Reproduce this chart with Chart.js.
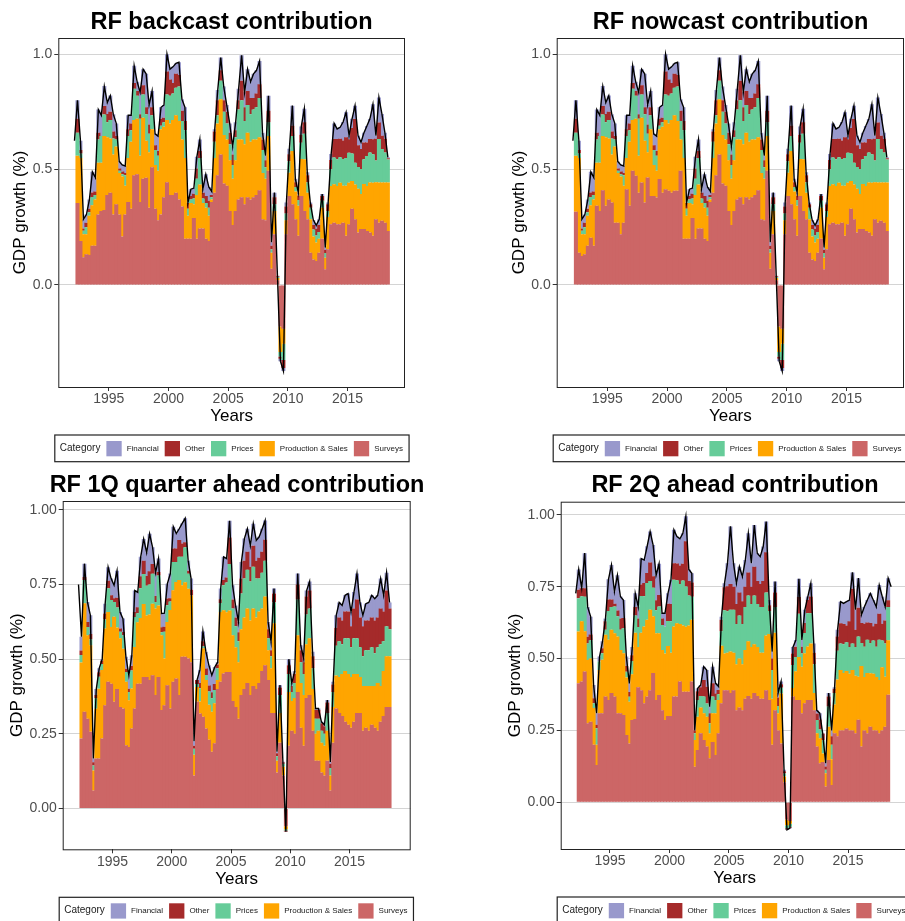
<!DOCTYPE html>
<html>
<head>
<meta charset="utf-8">
<script src="https://cdn.jsdelivr.net/npm/chart.js"></script>
<style>
html,body{margin:0;padding:0;background:#fff;width:905px;height:921px;overflow:hidden;position:relative;}
.panel{position:absolute;}
</style>
</head>
<body>
<canvas class="panel" id="c1" width="463" height="466" style="left:0px;top:0px"></canvas>
<canvas class="panel" id="c2" width="467" height="466" style="left:497px;top:0px"></canvas>
<canvas class="panel" id="c3" width="474" height="459" style="left:0px;top:462px"></canvas>
<canvas class="panel" id="c4" width="476" height="459" style="left:497px;top:462px"></canvas>
<script>
// quarterly bars, first one is 1992 Q2 (mid quarter), line starts one quarter earlier
const firstBar = 1992.375;
const firstLine = 1992.125;
const xTicks = [1995, 2000, 2005, 2010, 2015];

const categories = ["Financial", "Other", "Prices", "Production & Sales", "Surveys"];
const catColors = ["#9999CC", "#A52A2A", "#66CC99", "#FFA500", "#CC6666"];

// ---- RF backcast ----
const backSurveys = [.355,.19,.12,.133,.13,.17,.17,.305,.32,.325,.39,.40,.305,.35,.305,.21,.305,.36,.33,.475,.48,.36,.46,.465,.335,.51,.33,.28,.305,.38,.445,.39,.39,.40,.37,.34,.20,.20,.20,.29,.20,.245,.245,.20,.19,.36,.40,.475,.565,.44,.43,.32,.26,.32,.37,.38,.35,.38,.37,.38,.39,.41,.285,.28,.495,.07,.22,.02,-.18,-.19,.22,.386,.35,.285,.213,.386,.32,.285,.14,.11,.104,.14,.20,.068,.155,.263,.27,.263,.263,.27,.213,.263,.33,.285,.227,.242,.242,.234,.227,.213,.285,.27,.278,.27,.234];
const backProduction = [.205,.36,.10,.087,.17,.175,.20,.225,.21,.32,.25,.235,.26,.25,.18,.26,.125,.19,.29,.24,.24,.20,.265,.16,.24,.165,.19,.215,.37,.305,.27,.31,.325,.335,.34,.29,.35,.10,.155,.06,.19,.19,.11,.135,.11,.01,.15,.225,.24,.21,.20,.22,.20,.22,.26,.25,.26,.28,.25,.25,.24,.23,.20,.18,.15,.07,.10,.01,-.11,-.065,.06,.10,.23,.12,.13,.16,.225,.115,.145,.10,.08,.06,.135,.05,.14,.166,.166,.166,.18,.16,.217,.18,.12,.15,.19,.152,.195,.195,.217,.23,.16,.174,.166,.174,.21];
const backPrices = [.10,.02,.015,.03,.015,.036,.02,.10,.115,.094,.065,.08,.07,.03,.01,.01,.045,.095,.05,.135,.10,.16,.10,.115,.08,.06,.065,.065,.015,.02,.11,.12,.115,.12,.15,.08,.12,.03,.015,.025,.07,.115,.02,.02,.035,.01,.07,.035,.08,.10,.07,.07,.06,.10,.13,.17,.10,.12,.12,.13,.14,.17,.10,.05,.06,.015,.03,.005,-.02,-.07,.03,.05,.065,.02,.025,.07,.11,.045,.05,.03,.03,.03,.03,.02,.025,.072,.116,.116,.11,.116,.12,.13,.12,.094,.094,.108,.108,.13,.13,.123,.094,.188,.145,.13,.10];
const backOther = [.06,.015,.01,.02,.015,.02,.015,.03,0,.036,.036,.036,.03,.015,.01,.012,.01,.03,.03,.025,.02,.02,.04,.03,.04,.035,.02,.02,.03,.02,.10,.07,.045,.06,.05,.045,.04,.025,.015,.02,.045,.03,.025,.03,.03,.01,.045,.065,.045,.05,.05,.05,.045,.03,.04,.085,.06,.06,.07,.05,.06,.06,.045,.03,.05,.015,.03,.003,-.01,-.035,.03,.03,.045,.02,.02,.035,.05,.03,.015,.02,.03,.03,.02,.015,.03,.04,.08,.087,.08,.08,.09,.058,.11,.19,.094,.087,.072,.058,.058,.065,.094,.072,.058,.06,.005];
const backFinancial = [.08,.04,.04,.035,.04,.09,.06,.10,.09,.087,.05,.07,.075,.055,.03,.03,.03,.06,.035,.075,.04,.095,.07,.145,.085,.07,.05,.065,.05,.055,.075,.045,.07,.045,.055,.05,.06,0,.03,.025,.05,.05,.015,.095,.06,.015,.01,.045,.055,.06,.03,.04,.035,.035,.05,.11,.065,.095,.07,.105,.10,.10,.03,.02,.065,.015,.02,.002,-.01,-.013,.017,.024,.087,.015,.012,.036,.058,.013,.007,.022,.014,.025,.009,.009,.007,.026,.068,.044,.05,.08,.108,.016,.04,.058,.043,.029,.043,.072,.087,.152,.014,.108,.094,.026,.004];
const backLine = [.625,.80,.625,.285,.305,.37,.49,.465,.76,.735,.86,.79,.82,.74,.70,.535,.52,.515,.735,.735,.95,.88,.835,.935,.915,.78,.84,.655,.645,.77,.78,1.0,.935,.945,.96,.965,.805,.77,.355,.415,.42,.555,.63,.415,.48,.425,.405,.675,.845,.985,.86,.78,.70,.60,.705,.85,.995,.835,.935,.88,.915,.93,.97,.66,.56,.82,.185,.40,.04,-.33,-.373,.357,.59,.777,.46,.40,.687,.763,.488,.357,.282,.258,.285,.394,.162,.357,.567,.70,.676,.683,.706,.748,.647,.72,.777,.648,.618,.66,.69,.72,.783,.647,.812,.741,.66,.553];

// ---- RF nowcast ----
const nowSurveys = [.317,.14,.126,.133,.17,.205,.17,.343,.32,.41,.343,.37,.357,.27,.27,.22,.27,.415,.343,.495,.473,.40,.444,.357,.466,.386,.386,.379,.459,.40,.415,.408,.40,.408,.408,.495,.20,.20,.20,.29,.20,.245,.245,.20,.19,.36,.40,.475,.565,.44,.43,.32,.26,.32,.37,.38,.35,.38,.37,.38,.39,.41,.285,.28,.495,.07,.22,.02,-.18,-.19,.22,.386,.35,.285,.213,.386,.32,.285,.14,.11,.104,.14,.20,.068,.155,.263,.27,.263,.263,.27,.213,.263,.33,.285,.227,.242,.242,.234,.227,.213,.285,.27,.278,.27,.234];
const nowProduction = [.243,.41,.094,.087,.13,.14,.20,.187,.21,.235,.297,.265,.208,.33,.215,.25,.16,.135,.277,.22,.247,.16,.281,.268,.109,.289,.134,.116,.216,.285,.30,.292,.315,.327,.302,.135,.35,.10,.155,.06,.19,.19,.11,.135,.11,.01,.15,.225,.24,.21,.20,.22,.20,.22,.26,.25,.26,.28,.25,.25,.24,.23,.20,.18,.15,.07,.10,.01,-.11,-.065,.06,.10,.23,.12,.13,.16,.225,.115,.145,.10,.08,.06,.135,.05,.14,.166,.166,.166,.18,.16,.217,.18,.12,.15,.19,.152,.195,.195,.217,.23,.16,.174,.166,.174,.21];
const nowPrices = [.10,.02,.015,.03,.015,.036,.02,.10,.115,.094,.065,.08,.07,.03,.01,.01,.045,.095,.05,.135,.10,.16,.10,.115,.08,.06,.065,.065,.015,.02,.11,.12,.115,.12,.15,.08,.12,.03,.015,.025,.07,.115,.02,.02,.035,.01,.07,.035,.08,.10,.07,.07,.06,.10,.13,.17,.10,.12,.12,.13,.14,.17,.10,.05,.06,.015,.03,.005,-.02,-.07,.03,.05,.065,.02,.025,.07,.11,.045,.05,.03,.03,.03,.03,.02,.025,.072,.116,.116,.11,.116,.12,.13,.12,.094,.094,.108,.108,.13,.13,.123,.094,.188,.145,.13,.10];
const nowOther = [.06,.015,.01,.02,.015,.02,.015,.03,0,.036,.036,.036,.03,.015,.01,.012,.01,.03,.03,.025,.02,.02,.04,.03,.04,.035,.02,.02,.03,.02,.10,.07,.045,.06,.05,.045,.04,.025,.015,.02,.045,.03,.025,.03,.03,.01,.045,.065,.045,.05,.05,.05,.045,.03,.04,.085,.06,.06,.07,.05,.06,.06,.045,.03,.05,.015,.03,.003,-.01,-.035,.03,.03,.045,.02,.02,.035,.05,.03,.015,.02,.03,.03,.02,.015,.03,.04,.08,.087,.08,.08,.09,.058,.11,.19,.094,.087,.072,.058,.058,.065,.094,.072,.058,.06,.005];
const nowFinancial = [.08,.04,.04,.035,.04,.09,.06,.10,.09,.087,.05,.07,.075,.055,.03,.03,.03,.06,.035,.075,.04,.095,.07,.145,.085,.07,.05,.065,.05,.055,.075,.045,.07,.045,.055,.05,.06,0,.03,.025,.05,.05,.015,.095,.06,.015,.01,.045,.055,.06,.03,.04,.035,.035,.05,.11,.065,.095,.07,.105,.10,.10,.03,.02,.065,.015,.02,.002,-.01,-.013,.017,.024,.087,.015,.012,.036,.058,.013,.007,.022,.014,.025,.009,.009,.007,.026,.068,.044,.05,.08,.108,.016,.04,.058,.043,.029,.043,.072,.087,.152,.014,.108,.094,.026,.004];
const nowLine = [.625,.80,.625,.285,.305,.37,.49,.465,.76,.735,.86,.79,.82,.74,.70,.535,.52,.515,.735,.735,.95,.88,.835,.935,.915,.78,.84,.655,.645,.77,.78,1.0,.935,.945,.96,.965,.805,.77,.355,.415,.42,.555,.63,.415,.48,.425,.405,.675,.845,.985,.86,.78,.70,.60,.705,.85,.995,.835,.935,.88,.915,.93,.97,.66,.56,.82,.185,.40,.04,-.33,-.373,.357,.59,.777,.46,.40,.687,.763,.488,.357,.282,.258,.285,.394,.162,.357,.567,.70,.676,.683,.706,.748,.647,.72,.777,.648,.618,.66,.69,.72,.783,.647,.812,.741,.66,.553];

// ---- RF 1Q quarter ahead ----
const q1Surveys = [.234,.324,.30,.257,.06,.167,.167,.234,.346,.424,.418,.357,.40,.34,.335,.212,.206,.268,.335,.418,.418,.44,.44,.43,.446,.38,.44,.33,.346,.413,.335,.424,.435,.38,.508,.508,.502,.49,.11,.357,.318,.307,.268,.23,.19,.218,.40,.424,.452,.457,.457,.36,.34,.30,.38,.40,.42,.38,.41,.40,.42,.46,.48,.43,.32,.32,.12,.22,.11,-.06,.21,.26,.25,.39,.27,.21,.37,.38,.26,.16,.16,.12,.11,.16,.06,.22,.335,.32,.31,.29,.28,.27,.29,.32,.32,.26,.27,.26,.28,.27,.26,.29,.31,.34,.34];
const q1Production = [.255,.363,.28,.29,.067,.167,.234,.23,.257,.234,.19,.285,.206,.23,.20,.212,.156,.134,.206,.206,.22,.245,.206,.22,.24,.29,.24,.25,.156,.212,.33,.307,.324,.385,.24,.25,.234,.223,.07,.05,.04,.23,.162,.117,.134,.134,.03,.234,.212,.20,.206,.22,.20,.19,.22,.24,.25,.25,.26,.24,.24,.21,.23,.10,.15,.30,.04,.10,.03,-.01,.18,.10,.12,.19,.15,.17,.18,.19,.14,.09,.10,.10,.10,.10,.05,.12,.11,.12,.14,.17,.17,.17,.16,.13,.12,.15,.14,.15,.13,.14,.16,.12,.15,.17,.17];
const q1Prices = [.025,.078,.028,.02,.017,.035,.04,.02,.03,.08,.09,.05,.067,.022,.045,.033,.028,.06,.10,.03,.10,.10,.10,.10,.10,.022,.10,.01,.09,.056,.028,.095,.067,.078,.095,.117,.05,0,.02,.01,.045,.006,.017,.045,.045,.045,.04,.03,.084,.10,.156,.09,.07,.07,.12,.13,.13,.13,.14,.13,.11,.12,.12,.04,.04,.07,.015,.06,.01,-.004,.06,.03,.05,.12,.07,.07,.10,.10,.07,.05,.04,.04,.04,.06,.025,.05,.10,.12,.10,.11,.12,.10,.12,.12,.10,.10,.12,.12,.13,.11,.12,.14,.10,.10,.09];
const q1Other = [.015,.01,.017,.017,.011,.011,.015,.011,.02,.025,.016,.012,.033,.011,.011,.011,.011,.015,.017,.02,.04,.045,.033,.045,.033,.02,.012,.017,.017,.022,.011,.045,.045,.056,.045,.017,.01,.02,.01,.013,.017,.017,.022,.02,.02,.02,.012,.013,.017,.017,.089,.03,.03,.03,.05,.06,.06,.05,.07,.06,.07,.07,.07,.03,.02,.03,.01,.025,.004,-.003,.03,.02,.03,.05,.04,.04,.06,.06,.04,.03,.03,.025,.025,.035,.015,.025,.06,.08,.08,.09,.09,.07,.10,.13,.10,.10,.10,.10,.10,.11,.10,.12,.10,.12,.07];
const q1Financial = [.046,.045,.067,.063,.012,.02,.014,.005,.033,.045,.056,.044,.09,.055,.045,.04,.045,.036,.072,.05,.065,.073,.078,.125,.056,.078,.045,.046,.045,.05,.083,.073,.05,.038,.067,.08,.035,.037,.015,0,.045,.033,.056,.068,.057,.057,.008,.036,.078,.063,.056,.048,.04,.035,.056,.074,.077,.07,.074,.068,.07,.077,.065,.025,.028,.017,.005,.008,.002,-.001,.02,.01,.01,.037,.017,.012,.02,.03,.015,.005,.005,.005,.005,.008,.006,.009,.042,.05,.05,.054,.06,.048,.055,.087,.05,.037,.056,.06,.074,.073,.074,.10,.054,.06,.02];
const q1Line = [.75,.575,.82,.692,.647,.167,.40,.47,.50,.686,.808,.77,.748,.796,.658,.636,.508,.446,.513,.73,.724,.843,.903,.857,.92,.875,.79,.837,.653,.654,.753,.787,.944,.921,.937,.955,.972,.831,.77,.225,.43,.465,.593,.525,.48,.446,.474,.49,.737,.843,.837,.964,.748,.68,.625,.826,.904,.937,.88,.954,.898,.91,.937,.965,.625,.558,.737,.19,.413,.156,-.078,.50,.42,.46,.787,.547,.502,.73,.76,.525,.335,.335,.29,.28,.363,.156,.424,.647,.69,.68,.714,.72,.658,.725,.787,.69,.647,.686,.69,.714,.703,.714,.77,.714,.79,.69];

// ---- RF 2Q ahead ----
const q2Surveys = [.414,.42,.455,.275,.28,.20,.13,.31,.31,.368,.356,.38,.368,.31,.31,.304,.234,.205,.286,.29,.40,.39,.345,.368,.39,.45,.356,.373,.32,.286,.30,.30,.368,.368,.42,.385,.385,.385,.42,.124,.182,.24,.217,.194,.153,.21,.165,.24,.345,.39,.39,.38,.39,.32,.33,.32,.36,.37,.36,.38,.37,.36,.36,.39,.356,.20,.32,.25,.205,.07,-.06,-.065,.368,.356,.356,.31,.345,.356,.356,.32,.194,.136,.14,.055,.147,.06,.24,.23,.25,.25,.257,.25,.25,.24,.287,.194,.25,.24,.263,.25,.25,.24,.25,.263,.374];
const q2Production = [.18,.21,.14,.22,.22,.128,.07,.15,.186,.215,.21,.22,.22,.267,.22,.215,.20,.145,.16,.30,.14,.20,.267,.267,.28,.197,.232,.215,.21,.232,.244,.22,.244,.255,.20,.23,.226,.23,.215,.093,.116,.09,.093,.104,.087,.10,.145,.116,.20,.128,.13,.145,.13,.16,.17,.16,.17,.19,.18,.17,.17,.16,.16,.19,.23,.16,.27,.06,.174,.02,-.02,-.01,.03,.10,.15,.162,.174,.186,.197,.06,.046,.087,.03,.046,.116,.09,.10,.197,.21,.20,.20,.197,.21,.20,.15,.28,.186,.21,.186,.197,.186,.186,.22,.174,.19];
const q2Prices = [.116,.087,.12,.058,.064,.017,.058,.03,.023,.017,.10,.08,.093,.07,.07,.087,.02,.017,.046,.06,.07,.128,.105,.128,.10,.10,.08,.093,.087,.093,.087,.11,.162,.15,.14,.157,.14,.105,.08,.023,.058,.04,.058,.046,.035,.058,.046,.02,.05,.15,.145,.145,.15,.14,.15,.14,.15,.16,.15,.17,.15,.16,.16,.15,.08,.10,.09,.025,.02,.01,-.01,-.01,.08,.05,.15,.046,.07,.116,.105,.10,.046,.03,.046,.012,.07,.05,.04,.10,.093,.10,.10,.093,.093,.10,.14,.08,.105,.116,.105,.116,.105,.14,.093,.116,.116];
const q2Other = [.03,.028,.03,.023,.02,.017,.012,0,.017,.03,.04,.026,.01,.02,.04,.035,.02,.017,.02,.03,.03,.04,.046,.035,.064,.04,.035,.04,.023,0,.06,.06,.058,.058,.064,.058,.157,.05,.05,.01,.03,.03,.058,.058,.035,.046,.023,.015,.04,.08,.087,.09,.08,.07,.08,.08,.07,.08,.06,.10,.08,.08,.09,.14,.02,.04,.05,.03,.012,.008,-.004,-.003,.04,.035,.058,.023,.035,.046,.058,.04,.023,.035,.023,.012,.035,.03,.015,.05,.07,.07,.058,.09,.19,.06,.10,.07,.08,.06,.07,.05,.08,.09,.058,.08,.023];
const q2Financial = [.07,0,.122,.104,.062,.046,.04,.017,.024,.01,.07,.12,.042,.123,.076,.063,.033,.03,.028,.047,.04,.09,.08,.093,.108,.108,.087,.109,.018,.047,.036,.084,.116,.094,.093,.106,.087,.04,.032,0,.011,.008,.046,.058,.023,.058,.035,.012,.011,.014,.08,.20,.082,.072,.09,.085,.093,.136,.082,.145,.097,.095,.12,.107,.018,.024,.038,.015,.009,.005,-.002,-.002,.022,.024,.064,.024,.046,.012,.046,.033,.011,.022,0,.011,.012,.02,.005,.023,.075,.072,.083,.074,.057,.07,.103,.028,.059,.078,.103,.091,.059,.10,.095,.047,.077];
const q2Line = [.727,.81,.745,.867,.68,.646,.408,.31,.507,.56,.64,.776,.826,.733,.79,.716,.704,.507,.414,.54,.727,.68,.848,.843,.891,.942,.895,.79,.83,.658,.658,.727,.774,.948,.925,.917,.936,.995,.81,.797,.25,.397,.408,.472,.46,.333,.472,.414,.403,.646,.762,.832,.96,.832,.762,.82,.785,.843,.936,.832,.965,.867,.855,.89,.977,.704,.524,.768,.38,.42,.113,-.096,-.09,.54,.565,.778,.565,.67,.716,.762,.553,.32,.31,.239,.136,.38,.25,.40,.60,.698,.692,.698,.704,.80,.67,.78,.652,.68,.704,.727,.704,.68,.756,.716,.68,.78,.75];

const FONT = '"Liberation Sans", Arial, Helvetica, sans-serif';
Chart.defaults.font.family = FONT;
Chart.defaults.animation = false;

function toPoints(values, start) {
  return values.map((v, i) => ({x: start + i * 0.25, y: v}));
}

// frame around panel + ggplot style legend box under the plot
const ggExtras = {
  id: 'ggExtras',
  afterDraw(chart) {
    const ctx = chart.ctx, a = chart.chartArea;
    ctx.save();
    ctx.strokeStyle = '#222';
    ctx.lineWidth = 1;
    ctx.strokeRect(a.left + 0.5, a.top + 0.5, a.right - a.left - 1, a.bottom - a.top);

    const L = a.left - 3.5, T = a.bottom + 48, H = 26.7;
    ctx.textBaseline = 'middle';
    ctx.fillStyle = '#1a1a1a';
    ctx.font = '10px ' + FONT;
    let x = L + 5;
    ctx.fillText('Category', x, T + H / 2);
    x += ctx.measureText('Category').width + 6;
    ctx.font = '8px ' + FONT;
    categories.forEach((c, i) => {
      ctx.fillStyle = catColors[i];
      ctx.fillRect(x, T + 6, 15.3, 15.3);
      x += 20.3;
      ctx.fillStyle = '#1a1a1a';
      ctx.fillText(c, x, T + H / 2 + 0.5);
      x += ctx.measureText(c).width + 6;
    });
    ctx.strokeStyle = '#222';
    ctx.lineWidth = 1.2;
    ctx.strokeRect(L, T, x - L, H);
    ctx.restore();
  }
};

function makePanel(id, p) {
  const stack = [
    {label: 'Surveys', data: p.surveys, color: catColors[4]},
    {label: 'Production & Sales', data: p.production, color: catColors[3]},
    {label: 'Prices', data: p.prices, color: catColors[2]},
    {label: 'Other', data: p.other, color: catColors[1]},
    {label: 'Financial', data: p.financial, color: catColors[0]}
  ];
  const datasets = stack.map(s => ({
    type: 'bar',
    label: s.label,
    data: toPoints(s.data, firstBar),
    backgroundColor: s.color,
    borderWidth: 0,
    barPercentage: 1.35,
    categoryPercentage: 1,
    order: 2
  }));
  datasets.push({
    type: 'line',
    label: 'total',
    stack: 'line',
    data: toPoints(p.line, firstLine),
    borderColor: '#000',
    borderWidth: 1.4,
    pointRadius: 0,
    tension: 0,
    order: 0
  });

  new Chart(document.getElementById(id), {
    data: {datasets},
    options: {
      responsive: false,
      layout: {padding: {left: 0, right: 0, top: 0, bottom: p.padBottom}},
      plugins: {
        legend: {display: false},
        tooltip: {enabled: false},
        title: {
          display: true, text: p.title, color: '#000',
          font: {size: 23.5, weight: 'bold'},
          padding: {top: p.titleTop, bottom: p.titleBottom}
        }
      },
      scales: {
        x: {
          type: 'linear', stacked: true, offset: false,
          min: p.xMin, max: p.xMax,
          afterBuildTicks: s => { s.ticks = xTicks.map(v => ({value: v})); },
          afterFit: s => { s.height = 40; },
          ticks: {autoSkip: false, maxRotation: 0, color: '#4d4d4d', font: {size: 14}, padding: 0,
                  callback: v => String(v)},
          grid: {offset: false, drawOnChartArea: false, drawTicks: true, tickLength: 4, tickColor: '#333'},
          border: {display: false},
          title: {display: true, text: 'Years', color: '#000', font: {size: 17}, padding: {top: 0, bottom: 0}}
        },
        y: {
          stacked: true,
          min: p.yMin, max: p.yMax,
          afterBuildTicks: s => { s.ticks = p.yTicks.map(v => ({value: v})); },
          afterFit: s => { s.width = p.yWidth; },
          ticks: {color: '#4d4d4d', font: {size: 14}, padding: 2,
                  callback: v => v.toFixed(p.decimals)},
          grid: {color: '#d4d4d4', lineWidth: 1, drawTicks: true, tickLength: 4, tickColor: '#333'},
          border: {display: false},
          title: {display: true, text: 'GDP growth (%)', color: '#000', font: {size: 17}, padding: {top: p.yTitlePad, bottom: 0}}
        },
        // empty right margin so the title centres over the panel
        margin: {
          position: 'right', display: true,
          afterFit: s => { s.width = p.padRight; },
          ticks: {display: false},
          grid: {display: false, drawTicks: false},
          border: {display: false}
        }
      }
    },
    plugins: [ggExtras]
  });
}

makePanel('c1', {
  title: 'RF backcast contribution',
  surveys: backSurveys, production: backProduction, prices: backPrices, other: backOther, financial: backFinancial, line: backLine,
  xMin: 1990.77, xMax: 2019.81, yMin: -0.442, yMax: 1.07, yTicks: [0, 0.5, 1], decimals: 1,
  yWidth: 58.3, padRight: 58, padBottom: 39, titleTop: 8.3, titleBottom: 1.5, yTitlePad: 9.8
});
makePanel('c2', {
  title: 'RF nowcast contribution',
  surveys: nowSurveys, production: nowProduction, prices: nowPrices, other: nowOther, financial: nowFinancial, line: nowLine,
  xMin: 1990.77, xMax: 2019.81, yMin: -0.442, yMax: 1.07, yTicks: [0, 0.5, 1], decimals: 1,
  yWidth: 59.7, padRight: 60, padBottom: 39, titleTop: 8.3, titleBottom: 1.5, yTitlePad: 11.8
});
makePanel('c3', {
  title: 'RF 1Q quarter ahead contribution',
  surveys: q1Surveys, production: q1Production, prices: q1Prices, other: q1Other, financial: q1Financial, line: q1Line,
  xMin: 1990.79, xMax: 2020.16, yMin: -0.137, yMax: 1.03, yTicks: [0, 0.25, 0.5, 0.75, 1], decimals: 2,
  yWidth: 62.7, padRight: 63.3, padBottom: 31.7, titleTop: 9, titleBottom: 1.8, yTitlePad: 6.8
});
makePanel('c4', {
  title: 'RF 2Q ahead contribution',
  surveys: q2Surveys, production: q2Production, prices: q2Prices, other: q2Other, financial: q2Financial, line: q2Line,
  xMin: 1990.86, xMax: 2020.1, yMin: -0.1625, yMax: 1.046, yTicks: [0, 0.25, 0.5, 0.75, 1], decimals: 2,
  yWidth: 63.7, padRight: 64.3, padBottom: 32, titleTop: 9.7, titleBottom: 1.8, yTitlePad: 7.8
});
</script>
</body>
</html>
